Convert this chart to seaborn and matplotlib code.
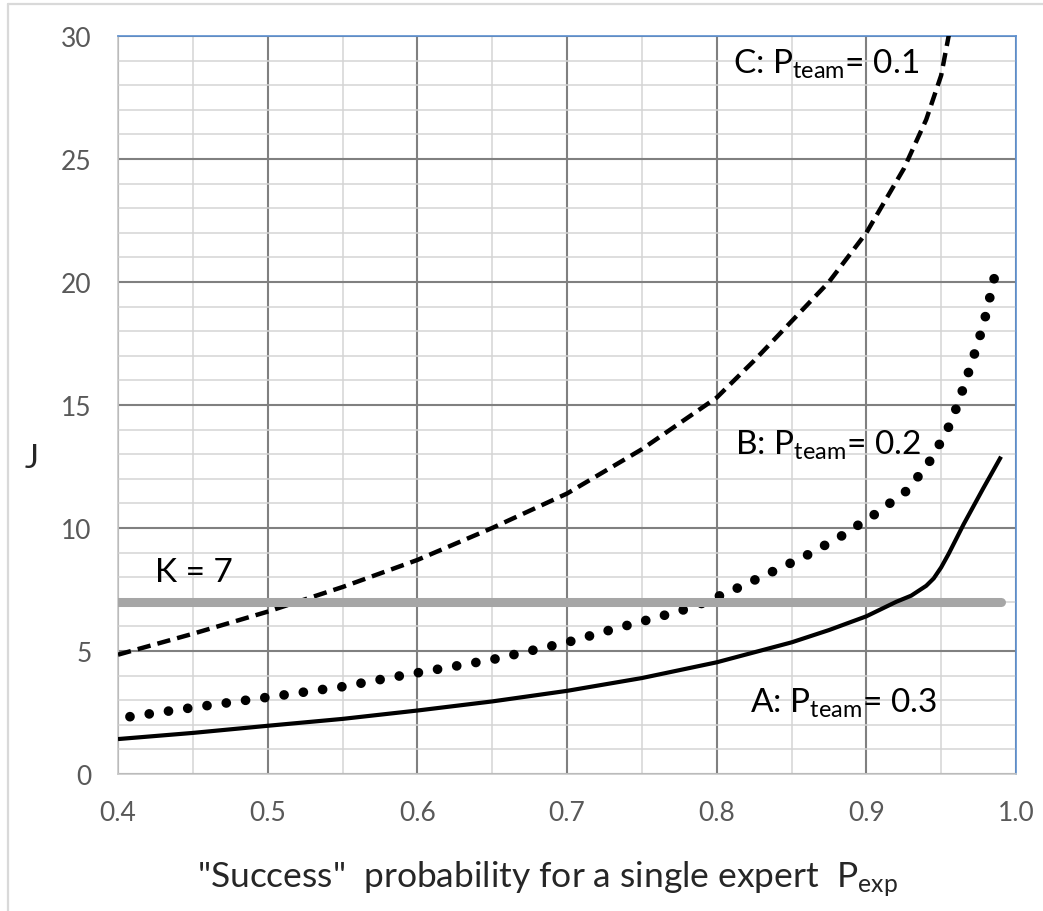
import matplotlib
matplotlib.use("Agg")
import matplotlib.pyplot as plt
import seaborn as sns
from matplotlib.lines import Line2D
from matplotlib.ticker import MultipleLocator, FormatStrFormatter

# Style: plain white, Calibri-like font
sns.set_theme(style="white")
plt.rcParams['font.family'] = ['Lato', 'DejaVu Sans']
plt.rcParams['mathtext.fontset'] = 'custom'
plt.rcParams['mathtext.rm'] = 'Lato'
plt.rcParams['mathtext.it'] = 'Lato:italic'

# Curve A: P_team = 0.3 (solid)
p_a = [0.40, 0.45, 0.50, 0.55, 0.60, 0.65, 0.70, 0.75, 0.80, 0.85, 0.875,
       0.90, 0.92, 0.93, 0.94, 0.945, 0.95, 0.955, 0.96, 0.965, 0.978, 0.99]
j_a = [1.42, 1.67, 1.96, 2.24, 2.58, 2.95, 3.38, 3.90, 4.54, 5.35, 5.85,
       6.41, 7.00, 7.25, 7.65, 7.95, 8.40, 8.95, 9.55, 10.15, 11.6, 12.9]

# Curve B: P_team = 0.2 (dotted)
p_b = [0.408, 0.45, 0.50, 0.55, 0.584, 0.65, 0.70, 0.731, 0.758, 0.784, 0.81,
       0.834, 0.859, 0.883, 0.906, 0.928, 0.944, 0.957, 0.966, 0.975, 0.98, 0.986]
j_b = [2.33, 2.70, 3.12, 3.55, 3.94, 4.65, 5.35, 5.89, 6.33, 6.78, 7.45,
       8.13, 8.85, 9.66, 10.57, 11.56, 12.85, 14.34, 15.9, 17.6, 18.7, 20.3]

# Curve C: P_team = 0.1 (dashed)
p_c = [0.40, 0.45, 0.50, 0.55, 0.60, 0.65, 0.70, 0.75, 0.80, 0.825, 0.85,
       0.875, 0.90, 0.925, 0.94, 0.95, 0.955, 0.96]
j_c = [4.85, 5.70, 6.60, 7.60, 8.70, 10.0, 11.4, 13.2, 15.3, 16.8, 18.4,
       20.0, 22.0, 24.6, 26.6, 28.4, 30.0, 31.5]

# Threshold K = 7
k_p = [0.40, 0.99]
k_j = [7, 7]

W, H = 1043, 912
fig = plt.figure(figsize=(W / 100, H / 100), dpi=100)
ax = fig.add_axes([118 / W, 1 - 775 / H, (1016 - 118) / W, (775 - 37) / H])

sns.lineplot(x=p_c, y=j_c, ax=ax, color='black', linewidth=3.2,
             linestyle=(0, (3.0, 1.6)), dash_capstyle='butt', zorder=3)
sns.lineplot(x=p_b, y=j_b, ax=ax, color='black', linewidth=7.0,
             linestyle=(0, (0.001, 2.0)), dash_capstyle='round', zorder=3)
sns.lineplot(x=k_p, y=k_j, ax=ax, color='#A6A6A6', linewidth=6.5,
             solid_capstyle='round', zorder=4)
sns.lineplot(x=p_a, y=j_a, ax=ax, color='black', linewidth=3.0,
             solid_capstyle='butt', zorder=5)

ax.set_xlim(0.4, 1.0)
ax.set_ylim(0, 30)
ax.xaxis.set_major_locator(MultipleLocator(0.1))
ax.xaxis.set_minor_locator(MultipleLocator(0.05))
ax.yaxis.set_major_locator(MultipleLocator(5))
ax.yaxis.set_minor_locator(MultipleLocator(1))
ax.xaxis.set_major_formatter(FormatStrFormatter('%.1f'))

ax.grid(which='minor', color='#D4D4D4', linewidth=1.1, zorder=0)
ax.grid(which='major', color='#808080', linewidth=1.5, zorder=1)
ax.set_axisbelow(True)

ax.tick_params(which='both', length=0, pad=19, labelsize=19, labelcolor='#595959')
for side in ['left', 'bottom']:
    ax.spines[side].set_color('#C8C8C8')
    ax.spines[side].set_linewidth(1.2)
for side in ['top', 'right']:
    ax.spines[side].set_color('#5B8FD0')
    ax.spines[side].set_linewidth(1.2)

ax.set_xlabel('')
ax.set_ylabel('')

# Curve labels
lab_kw = dict(fontsize=24, color='black', va='baseline', ha='left', zorder=6)
ax.text(0.811, 28.5, r'C: P$_{\mathrm{team}}$= 0.1', **lab_kw)
ax.text(0.812, 13.0, r'B: P$_{\mathrm{team}}$= 0.2', **lab_kw)
ax.text(0.822, 2.51, r'A: P$_{\mathrm{team}}$= 0.3', **lab_kw)
ax.text(0.4247, 7.86, 'K = 7', **lab_kw)

# Axis titles
fig.text(32 / W, 1 - 459 / H, 'J', fontsize=24, ha='center', va='center')
fig.text(197 / W, 1 - 888 / H,
         r'"Success"  probability for a single expert  P$_{\mathrm{exp}}$',
         fontsize=25.5, ha='left', va='baseline')

# Chart frame (left and top edges)
fig.add_artist(Line2D([8 / W, 8 / W], [0, 1 - 5 / H], color='#D9D9D9', linewidth=1.6))
fig.add_artist(Line2D([8 / W, 1], [1 - 5 / H, 1 - 5 / H], color='#D9D9D9', linewidth=1.6))

fig.savefig('out.png', dpi=100)
